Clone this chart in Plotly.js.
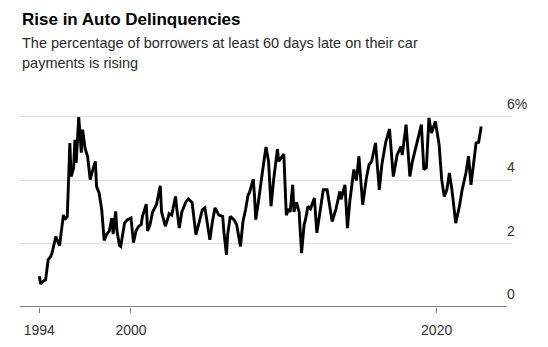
<!DOCTYPE html>
<html>
<head>
<meta charset="utf-8">
<script src="https://cdn.plot.ly/plotly-3.0.1.min.js"></script>
<style>html,body{margin:0;padding:0;background:#fff;}#chart{width:548px;height:347px;}</style>
</head>
<body>
<div id="chart"></div>
<script>
const titleText = "Rise in Auto Delinquencies";
const subtitleLines = ["The percentage of borrowers at least 60 days late on their car", "payments is rising"];

const dates = [
"1994-01","1994-02","1994-04","1994-06","1994-08","1994-10","1994-11",
"1995-02","1995-03","1995-05","1995-08","1995-09","1995-11",
"1996-01","1996-02","1996-04","1996-05","1996-06","1996-08","1996-10","1996-11",
"1997-01","1997-03","1997-05","1997-07","1997-09","1997-10","1997-12",
"1998-02","1998-04","1998-06","1998-08","1998-10","1998-11",
"1999-01","1999-02","1999-04","1999-05","1999-08","1999-10",
"2000-01","2000-02","2000-03","2000-05","2000-07","2000-09","2000-10",
"2001-01","2001-02","2001-04","2001-06","2001-09","2001-12",
"2002-01","2002-04","2002-06","2002-07","2002-09","2002-12",
"2003-01","2003-03","2003-05","2003-08","2003-10","2004-01",
"2004-04","2004-06","2004-09","2004-11",
"2005-01","2005-03","2005-05","2005-07","2005-10",
"2006-01","2006-02","2006-04","2006-05","2006-07","2006-10","2006-12",
"2007-03","2007-05","2007-07","2007-09","2007-10",
"2008-01","2008-02","2008-03","2008-05","2008-08","2008-09","2008-11",
"2009-01","2009-03","2009-05","2009-08","2009-09",
"2010-01","2010-03","2010-05","2010-06","2010-08","2010-09","2010-11",
"2011-01","2011-03","2011-05","2011-06","2011-08","2011-10",
"2012-01","2012-03","2012-06","2012-08","2012-11",
"2013-03","2013-06","2013-09","2013-10",
"2014-01","2014-03","2014-05","2014-08","2014-10","2014-12",
"2015-01","2015-03","2015-06","2015-08","2015-10",
"2016-01","2016-04","2016-06","2016-09","2016-12",
"2017-03","2017-05","2017-06","2017-09","2017-10",
"2018-01","2018-04","2018-06","2018-10",
"2019-01","2019-03","2019-05","2019-07","2019-09","2019-12",
"2020-03","2020-05","2020-07","2020-09","2020-11",
"2021-01","2021-04","2021-07","2021-09","2021-12",
"2022-02","2022-04","2022-06","2022-08","2022-10","2022-12"
];

const rate = [
0.97,0.73,0.81,0.86,1.49,1.60,1.70,
2.23,2.12,1.94,2.91,2.76,2.85,
5.18,4.12,4.40,5.28,4.55,6.00,4.87,5.60,
5.00,4.75,4.02,4.33,4.60,3.80,3.60,
3.07,2.10,2.30,2.40,2.81,2.30,
3.02,2.40,1.94,1.91,2.65,2.75,
2.81,2.30,2.03,2.40,2.55,2.60,2.86,
3.25,2.40,2.60,3.00,3.23,3.83,
3.00,2.55,2.80,2.95,2.90,3.49,
3.10,2.49,3.00,3.30,3.41,3.30,
2.28,2.60,3.07,3.13,
2.60,2.12,2.70,3.13,2.90,
2.86,2.34,1.65,2.30,2.86,2.75,2.60,
1.91,2.70,3.07,3.55,3.60,
4.04,3.50,2.76,3.30,4.34,4.50,5.05,
4.60,3.18,4.00,4.98,4.60,
4.83,2.90,3.10,3.00,3.86,3.00,3.30,
3.00,1.70,2.60,2.75,3.18,3.10,
3.44,2.34,3.18,3.70,3.70,
2.70,3.10,3.65,3.40,
3.86,2.49,3.38,4.34,4.00,4.76,
4.30,3.23,4.10,4.50,4.60,
5.18,3.70,4.50,5.20,5.62,
4.12,4.60,4.80,5.07,4.80,
5.76,4.12,4.60,5.30,
5.76,4.34,4.40,5.97,5.49,5.86,
5.12,4.02,3.49,3.70,4.23,
3.70,2.65,3.20,3.70,4.23,
4.76,3.86,4.50,5.18,5.20,5.70
];

const xTickVals = ["1994-01-01","2000-01-01","2020-01-01"];
const xTickText = ["1994","2000","2020"];
const yTickVals = [0,2,4,6];
const yTickText = ["0","2","4","6%"];

const W = 548, H = 347;
const mL = 20, mR = 36, mT = 100, mB = 40;
const plotH = H - mT - mB;
const py = p => (H - mB - p) / plotH; // pixel y -> paper y

const annotations = [];
annotations.push({xref:'paper', yref:'paper', x:0, y:py(8), xanchor:'left', yanchor:'top',
  text:'<b>'+titleText+'</b>', showarrow:false, font:{family:'Liberation Sans, Arial, sans-serif', size:17, color:'#000'}});
subtitleLines.forEach((t,i)=>{
  annotations.push({xref:'paper', yref:'paper', x:0, y:py(33 + i*20), xanchor:'left', yanchor:'top',
    text:t, showarrow:false, font:{family:'Liberation Sans, Arial, sans-serif', size:14.5, color:'#2a2a2a'}});
});
yTickVals.forEach((v,i)=>{
  annotations.push({xref:'paper', yref:'y', x:(505-mL)/(W-mL-mR), y:v, xanchor:'left', yanchor:'bottom', yshift:3,
    text:yTickText[i], showarrow:false, font:{family:'Liberation Sans, Arial, sans-serif', size:14, color:'#333'}});
});

const trace = {x:dates, y:rate, type:'scatter', mode:'lines',
  line:{color:'#000', width:2.9, shape:'linear'}, hoverinfo:'skip'};

const layout = {
  width:W, height:H,
  margin:{l:mL, r:mR, t:mT, b:mB, pad:0},
  paper_bgcolor:'#fff', plot_bgcolor:'#fff',
  showlegend:false,
  xaxis:{type:'date', range:['1992-09-27','2024-12-06'], tickvals:xTickVals, ticktext:xTickText,
    ticks:'outside', ticklen:5, tickwidth:1, tickcolor:'#777', showgrid:false, zeroline:false, showline:false,
    tickfont:{family:'Liberation Sans, Arial, sans-serif', size:14, color:'#333'}, ticklabelstandoff:5, fixedrange:true},
  yaxis:{range:[0, plotH/31.67], tickvals:[2,4,6], showticklabels:false, showgrid:true, gridcolor:'#dedede', gridwidth:1,
    zeroline:false, showline:false, ticks:'', fixedrange:true},
  shapes:[{type:'line', xref:'paper', yref:'y', x0:0, x1:(507-mL)/(W-mL-mR), y0:0, y1:0, line:{color:'#000', width:1.2}}],
  annotations:annotations
};

Plotly.newPlot('chart', [trace], layout, {displayModeBar:false, staticPlot:true});
</script>
</body>
</html>
